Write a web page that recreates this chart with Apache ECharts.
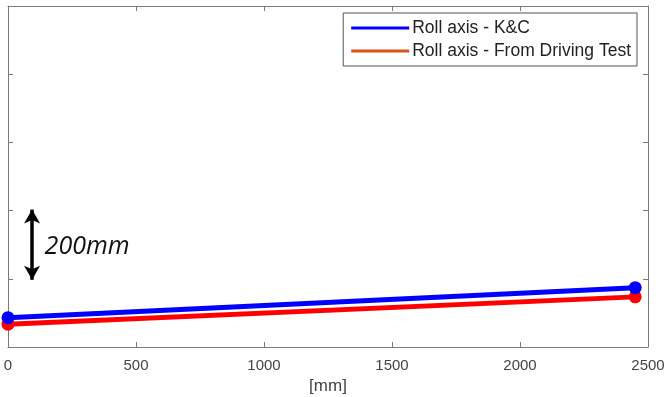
<!DOCTYPE html>
<html><head><meta charset="utf-8">
<script src="https://cdn.jsdelivr.net/npm/echarts@6/dist/echarts.min.js"></script>
<style>html,body{margin:0;padding:0;background:#fff}#c{width:665px;height:397px}</style>
</head><body><div id="c"></div>
<script>
const xPositions = [0, 2450];
const kcValues = [86, 174];
const drivingValues = [67, 147];
const xTicks = [0, 500, 1000, 1500, 2000, 2500];
const seriesNames = ['Roll axis - K&C', 'Roll axis - From Driving Test'];
const scaleArrow = [[94, 197], [94, 403]];
const scaleLabel = '200mm';

const chart = echarts.init(document.getElementById('c'));
const axisCol = '#7a7a7a';
const font = 'Liberation Sans, Arial, sans-serif';
function pairs(xs, ys){ return xs.map((x,i)=>[x, ys[i]]); }
chart.setOption({
  animation: false,
  grid: {left: 8, right: 17, top: 6, bottom: 50, containLabel: false, outerBoundsMode: 'none'},
  legend: {
    right: 28, top: 13, orient: 'vertical',
    padding: [6, 6, 6, 8],
    borderColor: '#555', borderWidth: 1, backgroundColor: '#fff',
    itemWidth: 58, itemHeight: 3, itemGap: 5,
    textStyle: {fontFamily: font, fontSize: 17.5, color: '#222', padding: [0,0,0,-2]},
    data: [
      {name: seriesNames[0], icon: 'rect', itemStyle: {color: '#0000ff'}},
      {name: seriesNames[1], icon: 'rect', itemStyle: {color: '#d95319'}}
    ]
  },
  xAxis: [{
    type: 'value', min: 0, max: 2500, interval: 500,
    name: '[mm]', nameLocation: 'middle', nameGap: 30,
    nameTextStyle: {fontFamily: font, fontSize: 17, color: '#444'},
    axisLine: {show: true, lineStyle: {color: axisCol}},
    axisTick: {show: true, inside: true, length: 5, lineStyle: {color: axisCol}},
    axisLabel: {fontFamily: font, fontSize: 15, color: '#444', margin: 11,
      formatter: v => String(v)},
    splitLine: {show: false}
  }, {
    type: 'value', position: 'top', min: 0, max: 2500, interval: 500,
    axisLine: {show: true, onZero: false, lineStyle: {color: axisCol}},
    axisTick: {show: true, inside: true, length: 5, lineStyle: {color: axisCol}},
    axisLabel: {show: false}, splitLine: {show: false}
  }],
  yAxis: [{
    type: 'value', min: 0, max: 1000, interval: 200,
    axisLine: {show: true, lineStyle: {color: axisCol}},
    axisTick: {show: true, inside: true, length: 5, lineStyle: {color: axisCol}},
    axisLabel: {show: false}, splitLine: {show: false}
  }, {
    type: 'value', position: 'right', min: 0, max: 1000, interval: 200,
    axisLine: {show: true, onZero: false, lineStyle: {color: axisCol}},
    axisTick: {show: true, inside: true, length: 5, lineStyle: {color: axisCol}},
    axisLabel: {show: false}, splitLine: {show: false}
  }],
  series: [
    {
      name: seriesNames[1], type: 'line', data: pairs(xPositions, drivingValues),
      symbol: 'circle', symbolSize: 13, lineStyle: {color: '#ff0000', width: 5},
      itemStyle: {color: '#ff0000'}, z: 2
    },
    {
      name: seriesNames[0], type: 'line', data: pairs(xPositions, kcValues),
      symbol: 'circle', symbolSize: 13, lineStyle: {color: '#0000ff', width: 5},
      itemStyle: {color: '#0000ff'}, z: 3,
      markLine: {
        silent: true, symbol: ['arrow', 'arrow'], symbolSize: [12, 14],
        lineStyle: {color: '#000', width: 3.5, type: 'solid'},
        label: {show: false},
        data: [[{coord: scaleArrow[0]}, {coord: scaleArrow[1]}]]
      },
      markPoint: {
        symbol: 'circle', symbolSize: 0,
        label: {show: true, formatter: scaleLabel, fontFamily: 'Open Sans', fontStyle: 'italic',
          fontSize: 25, color: '#111', position: 'right', distance: 0},
        data: [{coord: [143, 293], value: scaleLabel}]
      }
    }
  ]
});
</script></body></html>
